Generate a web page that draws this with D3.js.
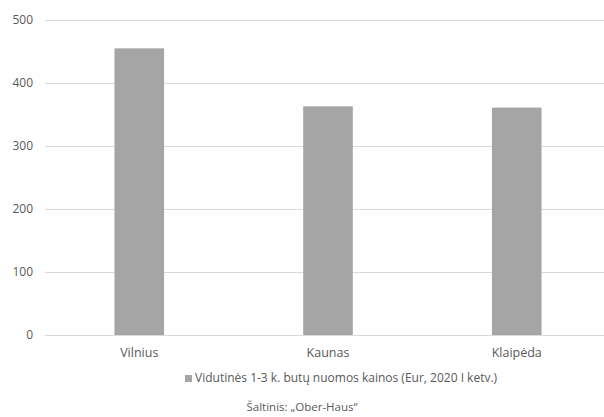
<!DOCTYPE html>
<html>
<head>
<meta charset="utf-8">
<script src="https://cdn.jsdelivr.net/npm/d3@7"></script>
<style>
  body { margin: 0; background: #fff; }
  text { font-family: "Open Sans", "Noto Sans", sans-serif; fill: #595959; }
</style>
</head>
<body>
<script>
const cities = ["Vilnius", "Kaunas", "Klaipėda"];
const prices = [455, 363, 361];
const yTicks = [0, 100, 200, 300, 400, 500];
const seriesName = "Vidutinės 1-3 k. butų nuomos kainos (Eur, 2020 I ketv.)";
const sourceText = "Šaltinis:  „Ober-Haus“";

const width = 604, height = 417;
const barColor = "#a5a5a5";

const svg = d3.select("body").append("svg")
    .attr("width", width)
    .attr("height", height);

const x = d3.scaleBand()
    .domain(cities)
    .range([45, 611])
    .paddingInner(0.737)
    .paddingOuter(0.368);

const y = d3.scaleLinear()
    .domain([0, 500])
    .range([335, 20]);

// grid lines
svg.append("g")
    .selectAll("line")
    .data(yTicks)
    .enter()
    .append("line")
    .attr("x1", 45)
    .attr("x2", 611)
    .attr("y1", d => y(d) + 0.5)
    .attr("y2", d => y(d) + 0.5)
    .attr("stroke", "#d9d9d9")
    .attr("stroke-width", 1);

// y tick labels
svg.append("g")
    .selectAll("text")
    .data(yTicks)
    .enter()
    .append("text")
    .attr("x", 33)
    .attr("y", d => y(d))
    .attr("dy", "0.35em")
    .attr("text-anchor", "end")
    .style("font-size", "12px")
    .text(d => d);

// bars
svg.append("g")
    .selectAll("rect")
    .data(prices)
    .enter()
    .append("rect")
    .attr("x", (d, i) => x(cities[i]))
    .attr("y", d => y(d))
    .attr("width", x.bandwidth())
    .attr("height", d => y(0) - y(d))
    .attr("fill", barColor);

// category labels
svg.append("g")
    .selectAll("text")
    .data(cities)
    .enter()
    .append("text")
    .attr("x", d => x(d) + x.bandwidth() / 2)
    .attr("y", 357)
    .attr("text-anchor", "middle")
    .style("font-size", "12.5px")
    .text(d => d);

// legend
const legend = svg.append("g").attr("transform", "translate(185,382)");
legend.append("rect")
    .attr("x", 0)
    .attr("y", -7)
    .attr("width", 7)
    .attr("height", 7)
    .attr("fill", barColor);
legend.append("text")
    .attr("x", 10)
    .attr("y", 0)
    .style("font-size", "12px")
    .text(seriesName);

svg.append("text")
    .attr("x", 302)
    .attr("y", 411)
    .attr("text-anchor", "middle")
    .style("font-size", "11.5px")
    .text(sourceText);
</script>
</body>
</html>
